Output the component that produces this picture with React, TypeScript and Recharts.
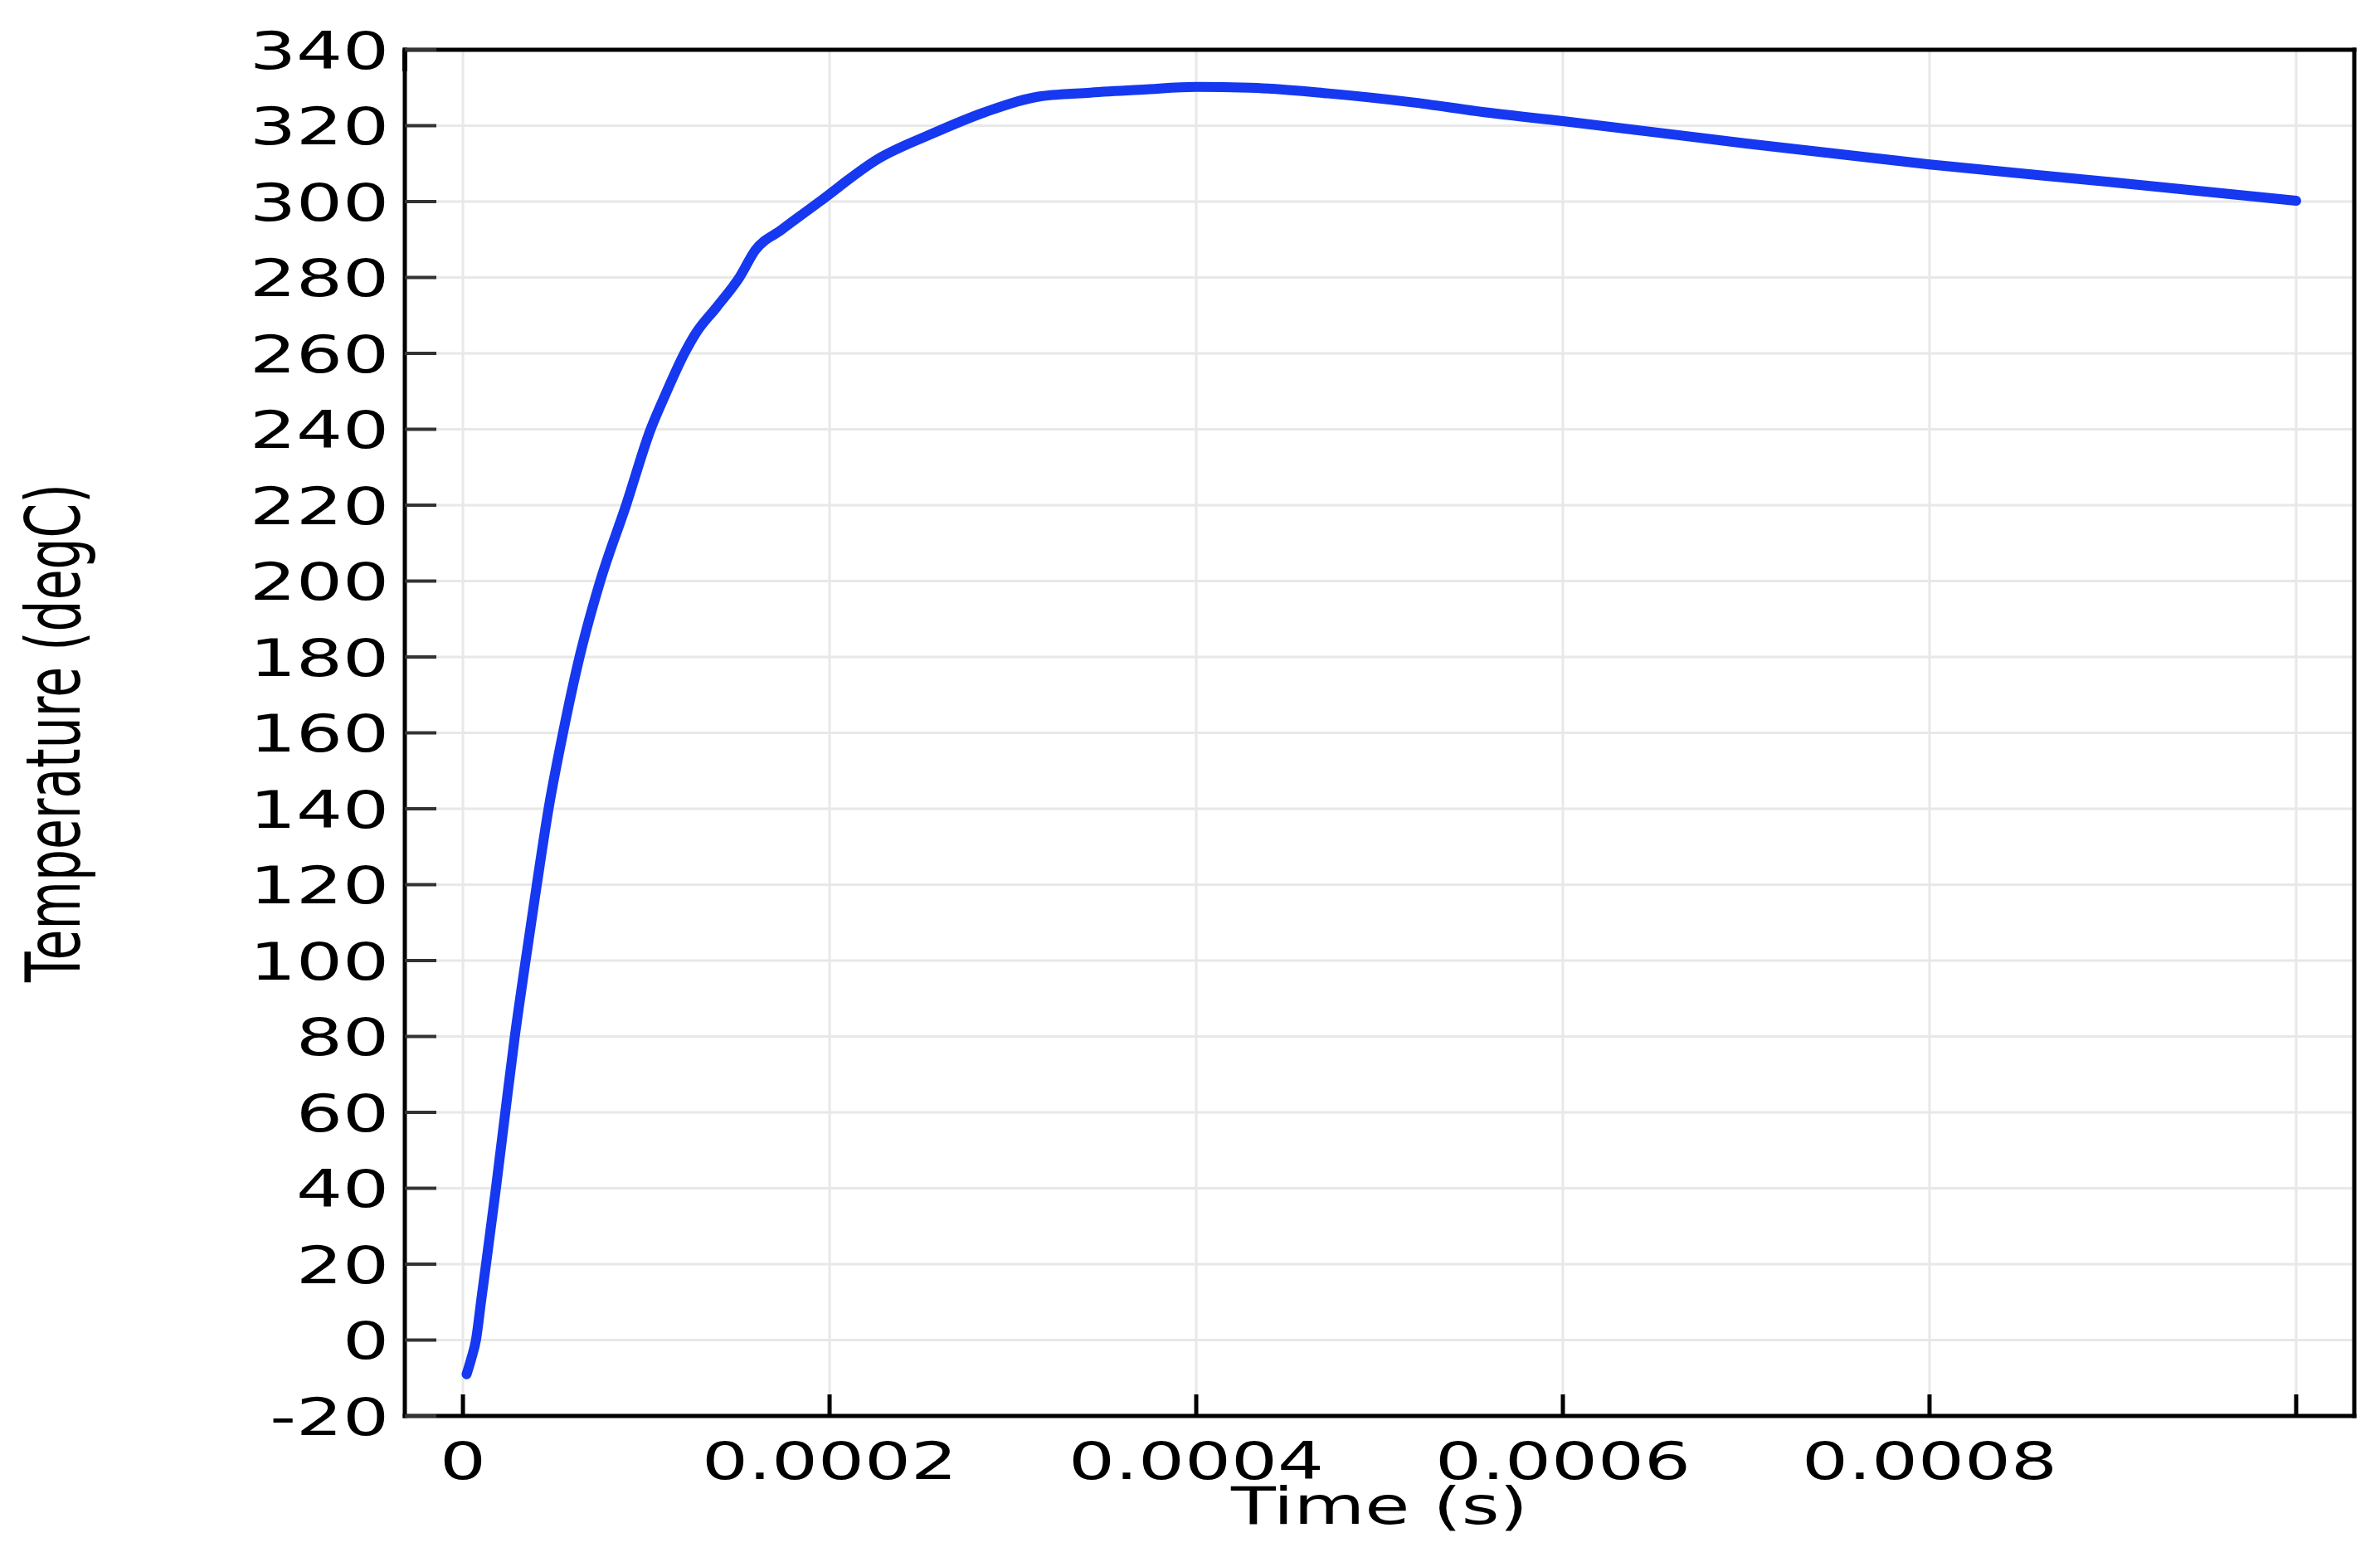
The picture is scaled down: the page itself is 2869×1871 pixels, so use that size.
import React from 'react';
import { LineChart, Line, XAxis, YAxis, CartesianGrid } from 'recharts';

// time (s) and temperature (degC)
const TIME_S = [
  0.000002, 0.0000045, 0.0000071, 0.0000101, 0.0000126, 0.000018, 0.0000231, 0.0000283,
  0.0000342, 0.0000403, 0.0000467, 0.0000546, 0.0000636, 0.0000749, 0.000089,
  0.0001024, 0.0001103, 0.0001208, 0.0001269, 0.0001384, 0.0001508, 0.0001595,
  0.0001736, 0.0001946, 0.0002266, 0.0002555, 0.0002844, 0.0003133, 0.0003422, 0.0003711,
  0.0004, 0.000429, 0.000472, 0.000517, 0.000558, 0.0006, 0.0007, 0.0008, 0.0009, 0.001,
];
const TEMP_C = [
  -9, -5, 0, 11, 20, 40, 60, 80,
  100, 120, 140, 160, 180, 200, 220,
  240, 249, 260, 265.2, 272.2, 280, 287.2,
  292.5, 300, 311.3, 317.8, 323.5, 327.6, 328.7, 329.5,
  330.2, 330.0, 328.5, 326.2, 323.5, 321.2, 315.3, 309.8, 305.1, 300.2,
];

const X_TICKS = [0, 0.0002, 0.0004, 0.0006, 0.0008, 0.001];
// the last tick (0.001) carries no label in the original
const X_LABELS = ['0', '0.0002', '0.0004', '0.0006', '0.0008', ''];
const Y_TICKS = [-20, 0, 20, 40, 60, 80, 100, 120, 140, 160, 180, 200, 220, 240, 260, 280, 300, 320, 340];

const data = TIME_S.map((t, i) => ({ t, T: TEMP_C[i] }));

const FONT = '"DejaVu Sans", sans-serif';
const FS = 62;
const STRETCH = 1.42;

const BottomTick = (props: any) => {
  const { x, y, payload } = props;
  const idx = X_TICKS.indexOf(payload.value);
  return (
    <g>
      <line x1={x} y1={y} x2={x} y2={y - 26} stroke="#000" strokeWidth={5} />
      <text
        transform={`translate(${x},${y + 76}) scale(${STRETCH},1)`}
        textAnchor="middle"
        fontFamily={FONT}
        fontSize={FS}
        fill="#000"
      >
        {idx >= 0 ? X_LABELS[idx] : ''}
      </text>
    </g>
  );
};

const TopTick = (props: any) => {
  const { x, y } = props;
  return <line x1={x} y1={y} x2={x} y2={y + 26} stroke="#000" strokeWidth={5} />;
};

const LeftTick = (props: any) => {
  const { x, y, payload } = props;
  return (
    <g>
      <line x1={x} y1={y} x2={x + 38} y2={y} stroke="#333" strokeWidth={4} />
      <text
        transform={`translate(${x - 19},${y + 22.5}) scale(${STRETCH},1)`}
        textAnchor="end"
        fontFamily={FONT}
        fontSize={FS}
        fill="#000"
      >
        {payload.value}
      </text>
    </g>
  );
};

const RightTick = (props: any) => {
  const { x, y } = props;
  return <line x1={x} y1={y} x2={x - 38} y2={y} stroke="#333" strokeWidth={4} />;
};

const XTitle = (props: any) => {
  const { x, y, width } = props.viewBox;
  return (
    <text
      transform={`translate(${x + width / 2},${y + 130}) scale(${STRETCH},1)`}
      textAnchor="middle"
      fontFamily={FONT}
      fontSize={FS}
      fill="#000"
    >
      Time (s)
    </text>
  );
};

const YTitle = (props: any) => {
  const { y, height } = props.viewBox;
  return (
    <text
      transform={`translate(96,${y + height / 2}) scale(1.5,1) rotate(-90)`}
      textAnchor="middle"
      fontFamily={FONT}
      fontSize={60}
      fill="#000"
    >
      Temperature (degC)
    </text>
  );
};

const frame = { stroke: '#000', strokeWidth: 5, strokeLinecap: 'square' as const };
const X_DOMAIN: [number, number] = [-0.0000317, 0.0010317];
const Y_DOMAIN: [number, number] = [-20, 340];

export default function App() {
  return (
    <div style={{ position: 'absolute', left: 0, top: 0, width: 2869, height: 1871, background: '#fff' }}>
      <LineChart width={2869} height={1871} data={data} margin={{ top: 59, right: 30, bottom: 0, left: 0 }}>
        <CartesianGrid stroke="#e8e8e8" strokeWidth={3} />
        <XAxis
          dataKey="t"
          type="number"
          domain={X_DOMAIN}
          ticks={X_TICKS}
          interval={0}
          height={164}
          tickSize={0}
          tickMargin={0}
          tickLine={false}
          axisLine={frame}
          tick={<BottomTick />}
          label={<XTitle />}
        />
        <XAxis
          xAxisId="top"
          orientation="top"
          type="number"
          domain={X_DOMAIN}
          ticks={X_TICKS}
          interval={0}
          height={1}
          tickSize={0}
          tickMargin={0}
          tickLine={false}
          axisLine={frame}
          tick={<TopTick />}
        />
        <YAxis
          type="number"
          domain={Y_DOMAIN}
          ticks={Y_TICKS}
          interval={0}
          width={488}
          tickSize={0}
          tickMargin={0}
          tickLine={false}
          axisLine={frame}
          tick={<LeftTick />}
          label={<YTitle />}
        />
        <YAxis
          yAxisId="right"
          orientation="right"
          type="number"
          domain={Y_DOMAIN}
          ticks={Y_TICKS}
          interval={0}
          width={1}
          tickSize={0}
          tickMargin={0}
          tickLine={false}
          axisLine={frame}
          tick={<RightTick />}
        />
        <Line
          type="monotone"
          dataKey="T"
          stroke="#1538F0"
          strokeWidth={12}
          strokeLinecap="round"
          strokeLinejoin="round"
          dot={false}
          isAnimationActive={false}
        />
      </LineChart>
    </div>
  );
}
